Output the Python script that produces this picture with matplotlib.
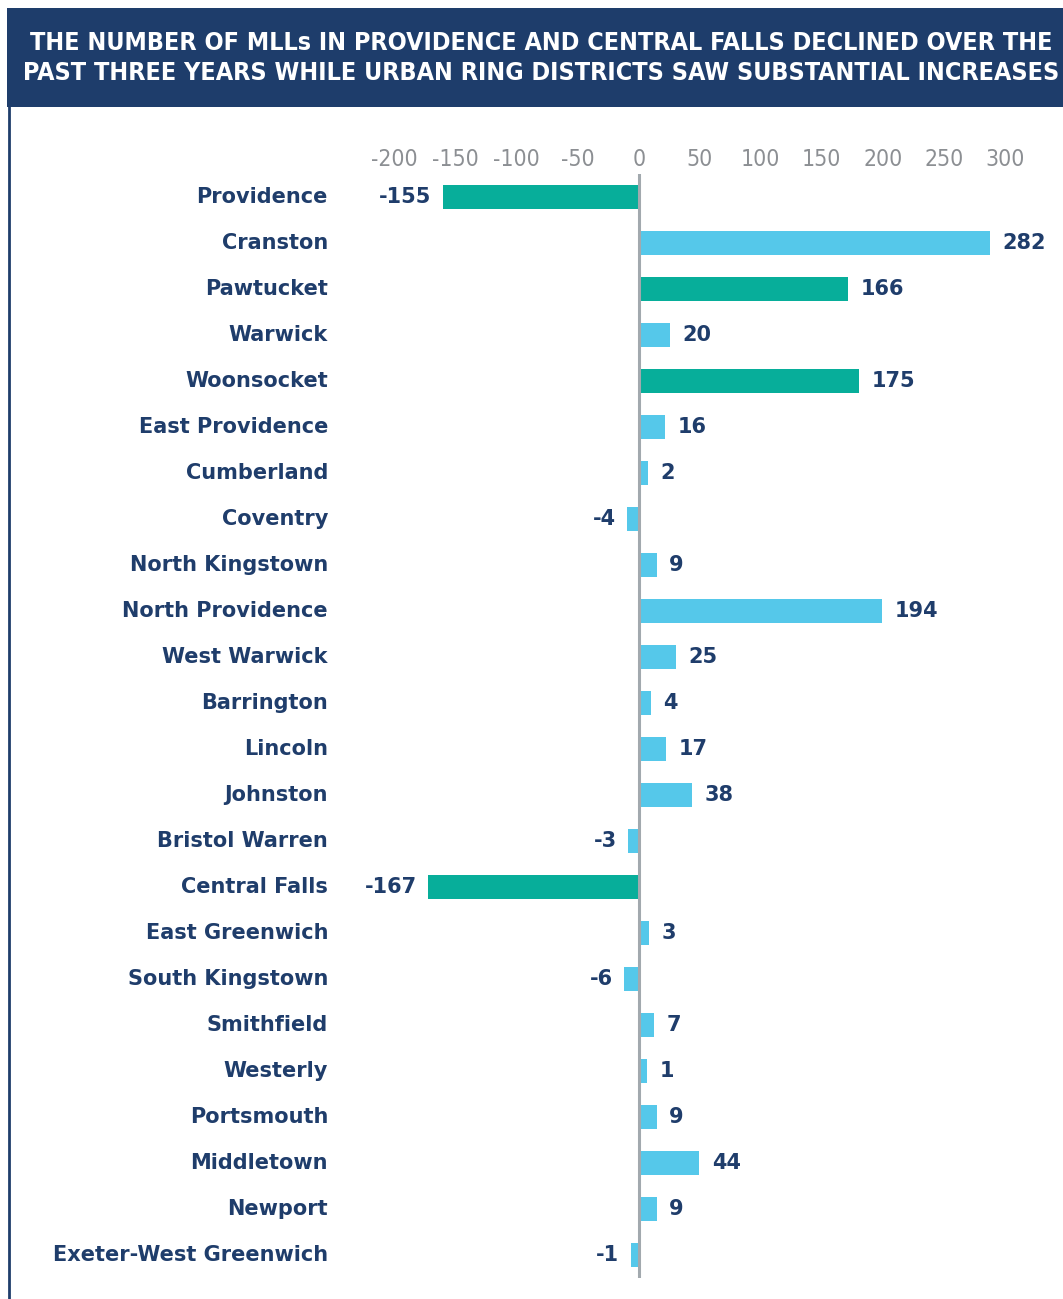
import numpy as np
import matplotlib.pyplot as plt
from matplotlib.patches import Rectangle

districts = [
    "Providence", "Cranston", "Pawtucket", "Warwick", "Woonsocket",
    "East Providence", "Cumberland", "Coventry", "North Kingstown",
    "North Providence", "West Warwick", "Barrington", "Lincoln", "Johnston",
    "Bristol Warren", "Central Falls", "East Greenwich", "South Kingstown",
    "Smithfield", "Westerly", "Portsmouth", "Middletown", "Newport",
    "Exeter-West Greenwich",
]
change = [-155, 282, 166, 20, 175, 16, 2, -4, 9, 194, 25, 4, 17, 38, -3,
          -167, 3, -6, 7, 1, 9, 44, 9, -1]
urban_core = ["Providence", "Pawtucket", "Woonsocket", "Central Falls"]
x_ticks = [-200, -150, -100, -50, 0, 50, 100, 150, 200, 250, 300]

TITLE = ("THE NUMBER OF MLLs IN PROVIDENCE AND CENTRAL FALLS DECLINED OVER THE\n"
         "PAST THREE YEARS WHILE URBAN RING DISTRICTS SAW SUBSTANTIAL INCREASES")

NAVY = "#1f3d6b"
TEAL = "#07ae9a"
SKY = "#55c8ea"
GREY = "#8c8f93"

# each bar runs a little past its value so tiny changes stay visible
STUB = 5.7

fig = plt.figure(figsize=(10.63, 12.99), dpi=100)
W, H = 1063, 1299

# title banner and left rule
fig.patches.append(Rectangle((7 / W, 1 - 107 / H), 1 - 7 / W, 99 / H,
                             transform=fig.transFigure, facecolor="#1e3d6b",
                             edgecolor="none"))
fig.add_artist(plt.Line2D([9 / W, 9 / W], [0, 1 - 107 / H],
                          transform=fig.transFigure, color=NAVY, lw=2))
fig.text(541 / W, 1 - 58 / H, TITLE, ha="center", va="center", color="white",
         fontsize=18, fontweight="bold", fontstretch="condensed",
         linespacing=1.3)

# axes: 0 at x=638.7px, 1.22 px per unit; rows 46 px apart
scale = 1.22
xmin, xmax = -220, 340
left_px = 638.7 + xmin * scale
right_px = 638.7 + xmax * scale
ax = fig.add_axes([left_px / W, 1 - 1278 / H, (right_px - left_px) / W, 1104 / H])

y = np.arange(len(districts))
vals = np.array(change, dtype=float)
ends = vals + np.sign(vals) * STUB
colors = [TEAL if d in urban_core else SKY for d in districts]
ax.barh(y, ends, height=0.52, color=colors)

ax.set_xlim(xmin, xmax)
ax.set_ylim(len(districts) - 0.5, -0.5)
ax.axvline(0, color="#a2a9ae", lw=2.2, zorder=3)

for s in ax.spines.values():
    s.set_visible(False)
ax.set_yticks([])
ax.xaxis.tick_top()
ax.set_xticks(x_ticks)
ax.set_xticklabels([str(t) for t in x_ticks], color=GREY, fontsize=16.5,
                   fontstretch="condensed")
ax.tick_params(axis="x", length=0, pad=2)

# value labels just past the bar ends
for i, (v, e) in enumerate(zip(change, ends)):
    ax.annotate(f"{v}", (e, i), xytext=(9 if v >= 0 else -8, 0),
                textcoords="offset points",
                ha="left" if v >= 0 else "right", va="center", color=NAVY,
                fontsize=15, fontweight="bold")

# district names right-aligned at x=328px
for i, name in enumerate(districts):
    ypx = 197 + 46 * i
    fig.text(328 / W, 1 - ypx / H, name, ha="right", va="center", color=NAVY,
             fontsize=15, fontweight="bold")

fig.savefig("out.png", dpi=100)
